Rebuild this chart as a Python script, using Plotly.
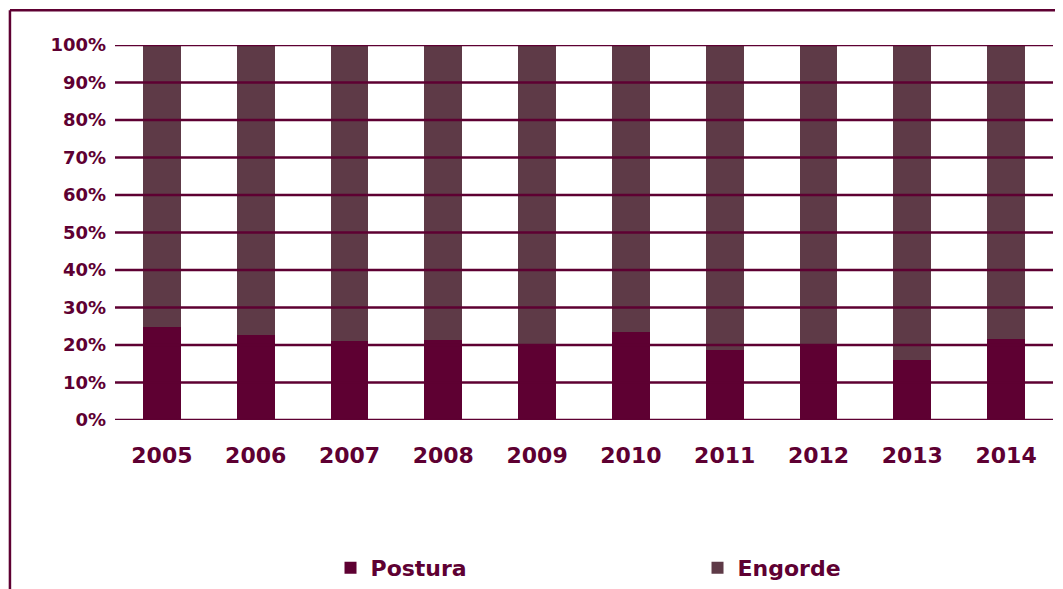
import plotly.graph_objects as go

years = ["2005", "2006", "2007", "2008", "2009", "2010", "2011", "2012", "2013", "2014"]
postura = [24.8, 22.7, 21.1, 21.4, 20.1, 23.5, 18.7, 20.3, 16.0, 21.6]
engorde = [round(100 - p, 1) for p in postura]
tick_vals = [0, 10, 20, 30, 40, 50, 60, 70, 80, 90, 100]
tick_text = [f"{v}%" for v in tick_vals]

C_POST = "#5E0032"
C_ENG = "#5E3A47"
TXT = "#5E0032"
FONT = "DejaVu Sans"

fig = go.Figure()
fig.add_trace(go.Bar(name="Postura", x=years, y=postura, marker_color=C_POST, marker_line_width=0))
fig.add_trace(go.Bar(name="Engorde", x=years, y=engorde, marker_color=C_ENG, marker_line_width=0))

shapes = []
for v in tick_vals:
    shapes.append(dict(type="line", xref="paper", yref="y", x0=0, x1=1, y0=v, y1=v,
                       line=dict(color=TXT, width=2.5), layer="above"))
# outer frame (left and top)
shapes.append(dict(type="line", xref="paper", yref="paper", x0=-0.112, x1=-0.112, y0=1.093, y1=-0.48,
                   line=dict(color=TXT, width=2.5), layer="above"))
shapes.append(dict(type="line", xref="paper", yref="paper", x0=-0.112, x1=1.02, y0=1.093, y1=1.093,
                   line=dict(color=TXT, width=2.5), layer="above"))

fig.update_layout(
    barmode="stack",
    bargap=0.595,
    width=1055, height=581,
    margin=dict(l=107, r=10, t=37, b=169, autoexpand=False),
    plot_bgcolor="white", paper_bgcolor="white",
    shapes=shapes,
    showlegend=True,
    legend=dict(orientation="h", xref="container", yref="container",
                x=0.3057, xanchor="left", y=-0.006, yanchor="bottom",
                entrywidth=322, font=dict(family=FONT, size=22, color=TXT, weight="bold"),
                traceorder="normal", itemwidth=30, bgcolor="rgba(0,0,0,0)"),
    xaxis=dict(showgrid=False, showline=False, ticks="", ticklabelstandoff=20,
               tickfont=dict(family=FONT, size=22, color=TXT, weight="bold")),
    yaxis=dict(range=[0, 100], tickvals=tick_vals, ticktext=tick_text, showgrid=False,
               zeroline=False, showline=False, ticks="", ticklabelstandoff=8,
               tickfont=dict(family=FONT, size=18, color=TXT, weight="bold")),
)

fig.write_html("out.html")
